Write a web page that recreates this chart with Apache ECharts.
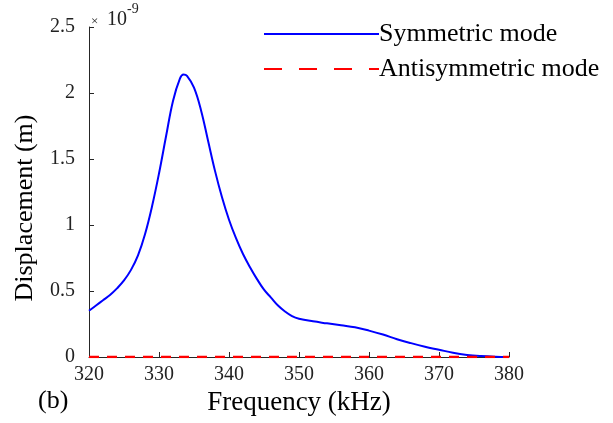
<!DOCTYPE html>
<html>
<head>
    <meta charset="utf-8">
    <title>Displacement</title>
    <script type="text/javascript" src="https://cdn.jsdelivr.net/npm/echarts@6/dist/echarts.min.js"></script>
</head>
<body style="margin: 0; background: #fff;">
<div id="chart" style="width: 613px; height: 423px;"></div>
<script type="text/javascript">
    // frequency (kHz) and displacement (in units of 1e-9 m)
    var freq = [320, 321, 322, 323, 324, 325, 326, 327, 328, 329, 330, 331, 332, 333, 333.5, 334, 335,
        336, 337, 338, 339, 340, 341, 342, 343, 344, 345, 346, 347, 348, 349, 350,
        352, 354, 356, 358, 360, 362, 364, 366, 368, 370, 372, 374, 376, 378, 380];
    var symmetric = [0.35, 0.39, 0.43, 0.47, 0.52, 0.58, 0.66, 0.77, 0.93, 1.14, 1.39, 1.67, 1.94, 2.11, 2.14, 2.13, 2.04,
        1.87, 1.64, 1.41, 1.21, 1.04, 0.90, 0.78, 0.68, 0.59, 0.51, 0.45, 0.39, 0.345, 0.31, 0.29,
        0.27, 0.255, 0.24, 0.225, 0.20, 0.17, 0.135, 0.105, 0.078, 0.055, 0.032, 0.016, 0.007, 0.002, 0];
    var antiFreq = [320, 330, 340, 350, 360, 370, 380];
    var antisymmetric = [0, 0, 0, 0, 0, 0, 0];
    var seriesNames = ['Symmetric mode', 'Antisymmetric mode'];

    var serif = "'Liberation Serif', 'Times New Roman', serif";
    var axisColor = '#262626';

    function pairs(xs, ys) {
        var out = [];
        for (var i = 0; i < xs.length; i++) {
            out.push([xs[i], ys[i]]);
        }
        return out;
    }

    var chart = echarts.init(document.getElementById('chart'));
    var option = {
        animation: false,
        backgroundColor: '#fff',
        grid: {
            left: 89,
            right: 104,
            top: 27,
            bottom: 66
        },
        legend: {
            orient: 'vertical',
            left: 263,
            top: 21,
            padding: 0,
            itemWidth: 115,
            itemHeight: 14,
            itemGap: 9,
            itemStyle: { opacity: 0 },
            textStyle: {
                fontFamily: serif,
                fontSize: 26,
                color: '#000',
                padding: [0, 0, 0, -5]
            },
            data: [
                { name: seriesNames[0] },
                { name: seriesNames[1], lineStyle: { type: [18, 17] } }
            ]
        },
        xAxis: {
            type: 'value',
            min: 320,
            max: 380,
            interval: 10,
            name: 'Frequency (kHz)',
            nameLocation: 'middle',
            nameGap: 26,
            nameTextStyle: { fontFamily: serif, fontSize: 27, color: '#000' },
            axisLine: { show: true, lineStyle: { color: axisColor, width: 1 } },
            axisTick: { show: true, inside: true, length: 5, lineStyle: { color: axisColor } },
            axisLabel: { fontFamily: serif, fontSize: 20, color: '#222', margin: 8 },
            splitLine: { show: false }
        },
        yAxis: {
            type: 'value',
            min: 0,
            max: 2.5,
            interval: 0.5,
            axisLine: { show: true, lineStyle: { color: axisColor, width: 1 } },
            axisTick: { show: true, inside: true, length: 5, lineStyle: { color: axisColor } },
            axisLabel: { fontFamily: serif, fontSize: 20, color: '#222', margin: 14 },
            splitLine: { show: false }
        },
        graphic: [
            {
                type: 'text',
                x: 25,
                y: 208,
                rotation: Math.PI / 2,
                style: {
                    text: 'Displacement (m)',
                    font: '26px ' + serif,
                    fill: '#000',
                    align: 'center',
                    verticalAlign: 'middle'
                }
            },
            {
                type: 'text',
                left: 91,
                top: 15,
                style: { text: '\u00d7', font: '13px ' + serif, fill: '#222' }
            },
            {
                type: 'text',
                left: 107,
                top: 10,
                style: { text: '10', font: '20px ' + serif, fill: '#222' }
            },
            {
                type: 'text',
                left: 127,
                top: 2,
                style: { text: '-9', font: '14px ' + serif, fill: '#222' }
            },
            {
                type: 'text',
                left: 38,
                top: 388,
                style: { text: '(b)', font: '26px ' + serif, fill: '#000' }
            }
        ],
        series: [
            {
                name: seriesNames[0],
                type: 'line',
                data: pairs(freq, symmetric),
                smooth: 0.4,
                symbol: 'none',
                lineStyle: { color: '#0000ff', width: 2 },
                itemStyle: { color: '#0000ff' }
            },
            {
                name: seriesNames[1],
                type: 'line',
                data: pairs(antiFreq, antisymmetric),
                symbol: 'none',
                lineStyle: { color: '#ff0000', width: 2.5, type: [10, 8] },
                itemStyle: { color: '#ff0000' }
            }
        ]
    };
    chart.setOption(option);
</script>
</body>
</html>
